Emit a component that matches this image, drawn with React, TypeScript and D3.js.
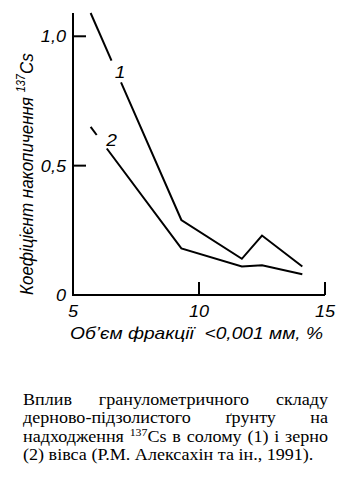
import * as d3 from "d3";

const xValues = [5.7, 9.3, 11.7, 12.5, 14.1];
const strawValues = [1.09, 0.29, 0.14, 0.23, 0.11];
const grainValues = [0.65, 0.18, 0.11, 0.115, 0.08];
const xTicks = [5, 10, 15];
const yTicks = [0, 0.5, 1.0];
const yTickLabels = ["0", "0,5", "1,0"];

const captionLines = [
  ["Вплив", "гранулометричного", "складу"],
  ["дерново-підзолистого", "ґрунту", "на"],
  ["надходження", "^137|Cs", "в", "солому", "(1)", "і", "зерно"],
  ["(2)", "вівса", "(Р.М.", "Алексахін", "та", "ін.,", "1991)."],
];

const W = 352;
const H = 482;
const sans = "Liberation Sans";
const serif = "Liberation Serif";
const stretch = 1.13; // the scan is a bit wider than tall

let ctx: CanvasRenderingContext2D | null = null;
const measure = (txt: string, size: number) => {
  if (!ctx) ctx = document.createElement("canvas").getContext("2d");
  ctx!.font = `${size}px "${serif}"`;
  return ctx!.measureText(txt).width;
};
const tokenWidth = (tok: string) => {
  if (tok.startsWith("^")) {
    const [sup, rest] = tok.slice(1).split("|");
    return measure(sup, 10.5) + measure(rest, 16);
  }
  return measure(tok, 16);
};

const Label = ({ x, y, anchor = "start", size = 16, children }: any) => (
  <text
    transform={`translate(${x},${y}) scale(${stretch},1)`}
    textAnchor={anchor}
    style={{ fontSize: size }}
  >
    {children}
  </text>
);

const App = () => {
  const x = d3.scaleLinear().domain([5, 15]).range([73, 325]);
  const y = d3.scaleLinear().domain([0, 1.09]).range([295, 13]);

  // line with a gap cut in its first segment for the label
  const gapped = (vals: number[], t0: number, t1: number) => {
    const pts: [number, number][] = xValues.map((v, i) => [x(v), y(vals[i])]);
    const lerp = (t: number): [number, number] => [
      pts[0][0] + (pts[1][0] - pts[0][0]) * t,
      pts[0][1] + (pts[1][1] - pts[0][1]) * t,
    ];
    const line = d3.line();
    return [line([pts[0], lerp(t0)]), line([lerp(t1), ...pts.slice(1)])];
  };
  const pointOn = (vals: number[], t: number) => [
    x(xValues[0]) + (x(xValues[1]) - x(xValues[0])) * t,
    y(vals[0]) + (y(vals[1]) - y(vals[0])) * t,
  ];

  const straw = gapped(strawValues, 0.23, 0.335);
  const grain = gapped(grainValues, 0.067, 0.178);
  const l1 = pointOn(strawValues, 0.28);
  const l2 = pointOn(grainValues, 0.12);

  const capLeft = 23;
  const capWidth = (328 - capLeft) / stretch;
  const spaceW = measure(" ", 16);

  return (
    <svg width={W} height={H} style={{ position: "absolute", left: 0, top: 0, background: "#fff" }}>
      <g stroke="#000" strokeWidth={2} fill="none">
        <line x1={x(5)} x2={x(5)} y1={y(0)} y2={y(1.09)} />
        <line x1={x(5) - 1} x2={x(15)} y1={y(0)} y2={y(0)} />
        {yTicks.slice(1).map((t) => (
          <line key={t} x1={x(5)} x2={x(5) + 13} y1={y(t)} y2={y(t)} />
        ))}
        {xTicks.slice(1).map((t) => (
          <line key={t} x1={x(t)} x2={x(t)} y1={y(0)} y2={y(0) - 13} />
        ))}
        {[...straw, ...grain].map((d, i) => (
          <path key={i} d={d!} strokeLinejoin="miter" />
        ))}
      </g>
      <g style={{ fontFamily: sans, fontStyle: "italic" }} fill="#000">
        {yTicks.map((t, i) => (
          <Label key={t} x={x(5) - 7} y={y(t) + 6} anchor="end" size={16}>
            {yTickLabels[i]}
          </Label>
        ))}
        {xTicks.map((t) => (
          <Label key={t} x={x(t)} y={y(0) + 22} anchor="middle" size={16}>
            {t}
          </Label>
        ))}
        <Label x={l1[0] + 4} y={l1[1] + 7} anchor="middle" size={17}>1</Label>
        <Label x={l2[0] + 10} y={l2[1] + 5} anchor="middle" size={17}>2</Label>
        <text x={70} y={339} textLength={253} lengthAdjust="spacingAndGlyphs" style={{ whiteSpace: "pre", fontSize: 17 }}>
          {"Об’єм фракції  <0,001 мм, %"}
        </text>
        <text transform="translate(33,295) rotate(-90) scale(1,1.1)" style={{ fontSize: 17 }}>
          Коефіцієнт накопичення{" "}
          <tspan style={{ fontSize: 11 }} dy={-7}>137</tspan>
          <tspan dy={7}>Cs</tspan>
        </text>
      </g>
      <g
        style={{ fontFamily: serif, fontSize: 16 }}
        fill="#000"
        transform={`translate(${capLeft},0) scale(${stretch},1)`}
      >
        {captionLines.map((words, li) => {
          const widths = words.map(tokenWidth);
          const total = d3.sum(widths);
          const last = li === captionLines.length - 1;
          const gap = last ? spaceW : (capWidth - total) / (words.length - 1);
          let cx = 0;
          const baseY = 405 + li * 18.4;
          return words.map((w, wi) => {
            const px = cx;
            cx += widths[wi] + gap;
            if (w.startsWith("^")) {
              const [sup, rest] = w.slice(1).split("|");
              return (
                <text key={`${li}-${wi}`} x={px} y={baseY}>
                  <tspan style={{ fontSize: 10.5 }} dy={-6}>{sup}</tspan>
                  <tspan dy={6}>{rest}</tspan>
                </text>
              );
            }
            return (
              <text key={`${li}-${wi}`} x={px} y={baseY}>
                {w}
              </text>
            );
          });
        })}
      </g>
    </svg>
  );
};

export default App;
